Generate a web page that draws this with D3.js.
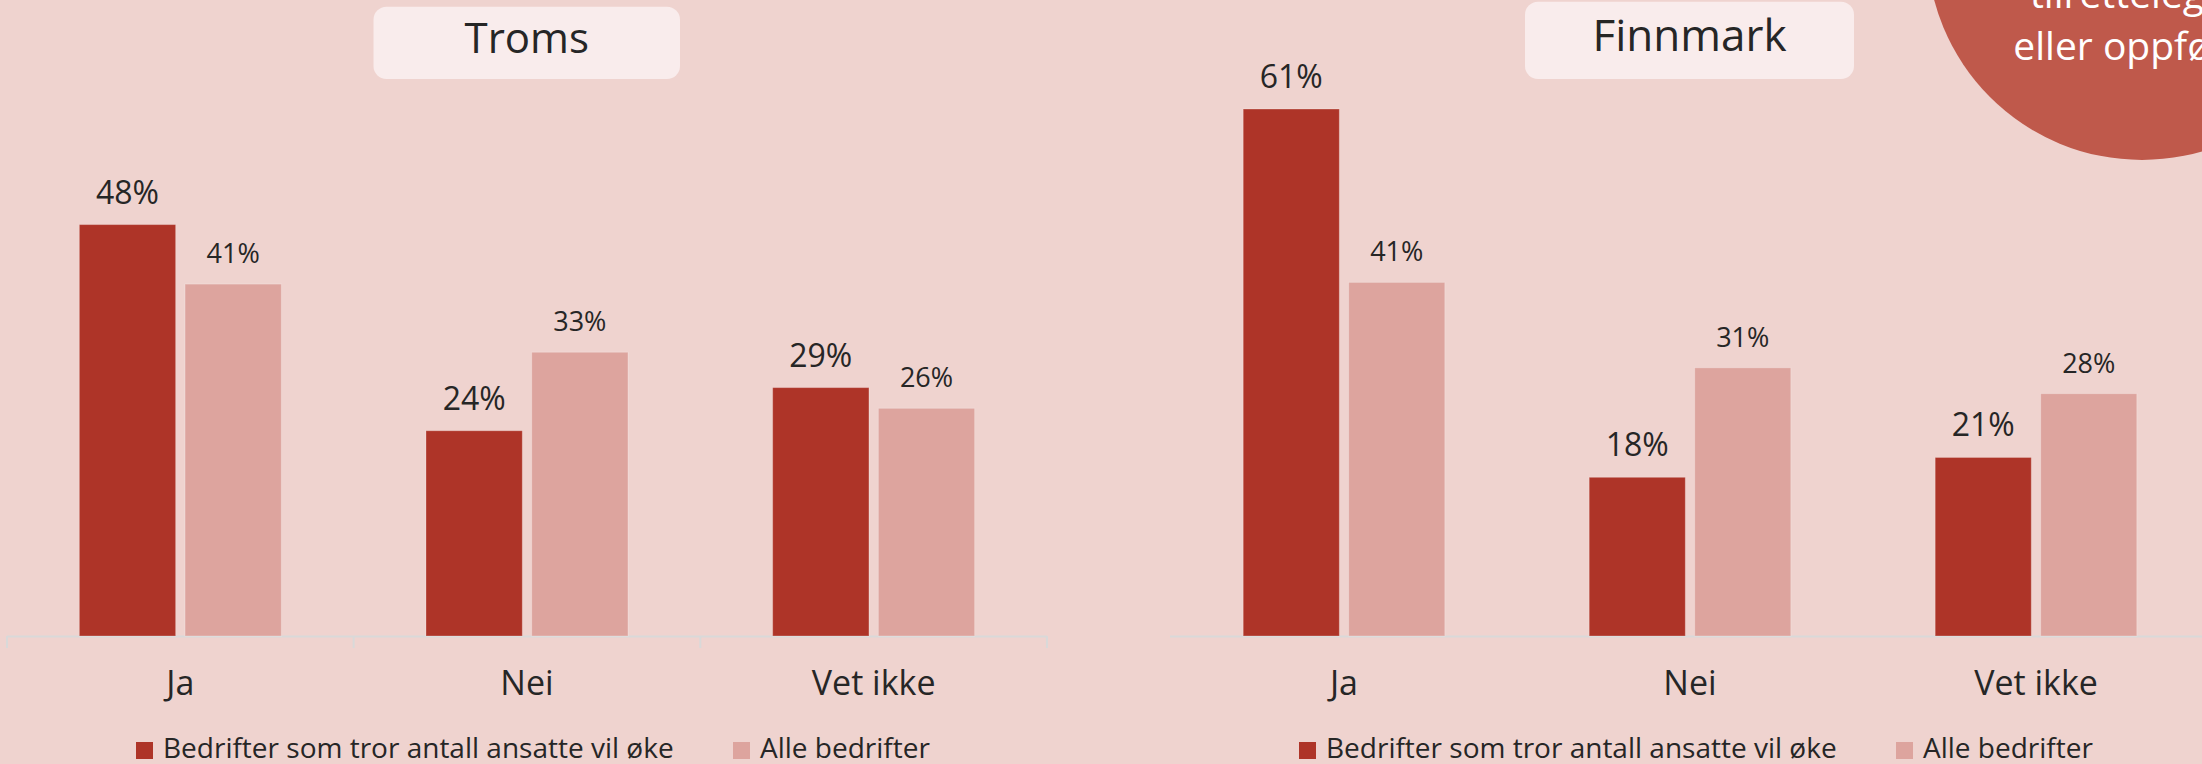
<!DOCTYPE html>
<html>
<head>
<meta charset="utf-8">
<script src="https://cdn.jsdelivr.net/npm/d3@7"></script>
<style>
  html, body { margin: 0; padding: 0; background: #efd3cf; overflow: hidden; }
  svg { display: block; }
  text { font-family: "Open Sans", Lato, sans-serif; }
</style>
</head>
<body>
<svg id="chart" width="2202" height="764"></svg>
<script>
// ---------- data ----------
const categories = ["Ja", "Nei", "Vet ikke"];
const seriesNames = ["Bedrifter som tror antall ansatte vil øke", "Alle bedrifter"];
const regions = ["Troms", "Finnmark"];
const tromsGrow = [47.7, 23.8, 28.8];
const tromsAll = [40.8, 32.9, 26.4];
const finnmarkGrow = [61.1, 18.4, 20.7];
const finnmarkAll = [41.0, 31.1, 28.1];
const circleLines = ["tilrettelegging", "eller oppfølging"];

// ---------- style ----------
const colors = ["#ae3428", "#dda49e"];
const bg = "#efd3cf";
const textColor = "#262626";

const svg = d3.select("#chart");
svg.append("rect").attr("width", 2202).attr("height", 764).attr("fill", bg);

const y = d3.scaleLinear().domain([0, 70]).range([636, 636 - 70 * 8.625]);
const fmt = v => d3.format(".0f")(v) + "%";

const panels = [
  { title: regions[0], values: [tromsGrow, tromsAll], range: [7, 1047], axis: [7, 1047], ticks: true,
    box: { x: 373.5, y: 6.7, w: 306.5, h: 72.3 }, titleSize: 42, titleY: 53, legendX: 136 },
  { title: regions[1], values: [finnmarkGrow, finnmarkAll], range: [1171, 2209], axis: [1170, 2210], ticks: false,
    box: { x: 1525, y: 1.7, w: 329, h: 77.3 }, titleSize: 44, titleY: 51, legendX: 1299 }
];

panels.forEach(p => {
  const g = svg.append("g");
  const x0 = d3.scaleBand().domain(categories).range(p.range).paddingInner(0.4173).paddingOuter(0.2087);
  const x1 = d3.scaleBand().domain([0, 1]).range([0, x0.bandwidth()]).paddingInner(0.089);

  // axis line
  g.append("line")
    .attr("x1", p.axis[0]).attr("x2", p.axis[1])
    .attr("y1", y(0) + 0.5).attr("y2", y(0) + 0.5)
    .attr("stroke", "#d9d9d9").attr("stroke-width", 2);
  if (p.ticks) {
    const step = x0.step();
    const tickXs = d3.range(categories.length + 1).map(i => p.range[0] + i * step);
    g.selectAll(".tick").data(tickXs).join("line")
      .attr("x1", d => d).attr("x2", d => d)
      .attr("y1", y(0)).attr("y2", y(0) + 12)
      .attr("stroke", "#d9d9d9").attr("stroke-width", 2);
  }

  // bars
  p.values.forEach((vals, si) => {
    g.selectAll(".bar" + si).data(vals).join("rect")
      .attr("x", (d, i) => x0(categories[i]) + x1(si))
      .attr("y", d => y(d))
      .attr("width", x1.bandwidth())
      .attr("height", d => y(0) - y(d))
      .attr("fill", colors[si])
      .attr("stroke", "#ffffff").attr("stroke-opacity", 0.25).attr("stroke-width", 1);

    g.selectAll(".lab" + si).data(vals).join("text")
      .attr("x", (d, i) => x0(categories[i]) + x1(si) + x1.bandwidth() / 2)
      .attr("y", d => y(d) - 21)
      .attr("text-anchor", "middle")
      .attr("font-size", si === 0 ? 32 : 27)
      .attr("fill", textColor)
      .text(d => fmt(d));
  });

  // category labels
  g.selectAll(".cat").data(categories).join("text")
    .attr("x", d => x0(d) + x0.bandwidth() / 2)
    .attr("y", 695)
    .attr("text-anchor", "middle")
    .attr("font-size", 34)
    .attr("fill", textColor)
    .text(d => d);

  // title box
  g.append("rect")
    .attr("x", p.box.x).attr("y", p.box.y).attr("width", p.box.w).attr("height", p.box.h)
    .attr("rx", 13).attr("fill", "#f9ecec");
  g.append("text")
    .attr("x", p.box.x + p.box.w / 2).attr("y", p.titleY)
    .attr("text-anchor", "middle")
    .attr("font-size", p.titleSize)
    .attr("fill", textColor)
    .text(p.title);

  // legend
  const lg = g.append("g").attr("transform", `translate(${p.legendX},0)`);
  seriesNames.forEach((name, si) => {
    const ox = si * 597;
    lg.append("rect").attr("x", ox).attr("y", 742).attr("width", 17).attr("height", 17).attr("fill", colors[si]);
    lg.append("text").attr("x", ox + 27).attr("y", 758)
      .attr("font-size", 28).attr("fill", textColor).text(name);
  });
});

// decorative circle top right
svg.append("circle").attr("cx", 2142).attr("cy", -55).attr("r", 215).attr("fill", "#bf594b");
svg.selectAll(".circ").data(circleLines).join("text")
  .attr("x", 2155)
  .attr("y", (d, i) => 8 + i * 52)
  .attr("text-anchor", "middle")
  .attr("font-size", 39)
  .attr("fill", "#ffffff")
  .text(d => d);
</script>
</body>
</html>
